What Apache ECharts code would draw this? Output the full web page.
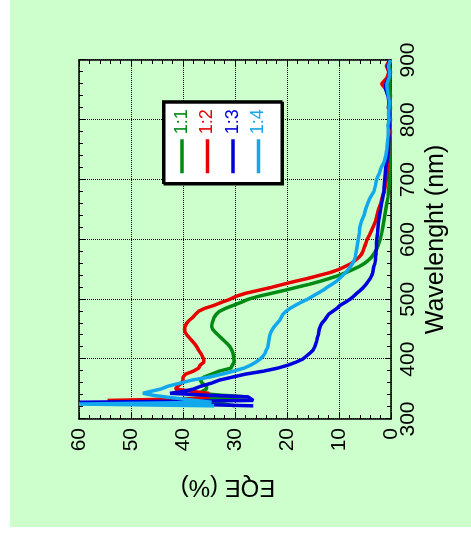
<!DOCTYPE html>
<html>
<head>
<meta charset="utf-8">
<script src="https://cdn.jsdelivr.net/npm/echarts@6/dist/echarts.min.js"></script>
<style>
  html, body { margin: 0; padding: 0; background: #fff; overflow: hidden; width: 471px; height: 540px; }
  /* The figure is laid out landscape and turned a quarter turn counter-clockwise. */
  #chart {
    position: absolute; left: 0; top: 0;
    width: 540px; height: 471px;
    transform-origin: 0 0;
    transform: translate(0, 540px) rotate(-90deg);
  }
</style>
</head>
<body>
<div id="chart"></div>
<script>
// Wavelength sampling points (nm)
const wavelength = [
  322, 325, 328, 331, 334, 337, 340, 343, 346, 350,
  355, 360, 365, 370, 375, 380, 385, 390, 395, 400,
  405, 410, 415, 420, 425, 430, 435, 440, 445, 450,
  455, 460, 465, 470, 475, 480, 485, 490, 495, 500,
  505, 510, 515, 520, 525, 530, 535, 540, 545, 550,
  555, 560, 565, 570, 575, 580, 585, 590, 595, 600,
  610, 620, 630, 640, 650, 660, 670, 680, 690, 700,
  710, 720, 730, 740, 750, 760, 770, 780, 790, 800,
  810, 820, 830, 840, 850, 860, 870, 880, 890, 900
];

// EQE (%) for each ratio
const eqe_1_1 = [
  30, 32, 36, 38, 40, 27.7, 33, 36.7, 36.3, 35.5,
  35.5, 36.3, 36.7, 36, 34.5, 33, 30.8, 30.5, 30.2, 30.2,
  30.3, 30.4, 30.6, 30.9, 31.4, 32, 32.6, 33.2, 33.8, 34.3,
  34.5, 34.4, 34.2, 34, 33.6, 33, 31.8, 30.3, 28.8, 27.5,
  25.5, 23, 20.5, 18.2, 15.8, 13.7, 11.8, 10, 8.6, 7.3,
  6.1, 5.1, 4.4, 3.8, 3.4, 3.0, 2.7, 2.5, 2.3, 2.1,
  1.8, 1.6, 1.4, 1.2, 1.0, 0.8, 0.6, 0.5, 0.4, 0.3,
  0.3, 0.2, 0.2, 0.2, 0.2, 0.2, 0.2, 0.1, 0.2, 0.1,
  0.2, 0.1, 0.2, 0.1, 0.2, 0.3, 0.2, 0.1, 0.3, 0.2
];
const eqe_1_2 = [
  36, 36, 37, 54.5, 38, 35, 35.5, 35, 38, 41.5,
  41, 40.3, 40, 40, 39.5, 38, 37, 36.7, 36, 36,
  36.3, 36.6, 37, 37.3, 37.7, 38.2, 38.7, 39.2, 39.6, 39.7,
  39.6, 39.3, 38.8, 38.1, 37.6, 37, 35.8, 34, 32.6, 31,
  29.8, 28, 25.5, 23, 20.8, 18.5, 16, 13.8, 11.6, 10,
  8.8, 7.6, 6.9, 6.2, 5.7, 5.4, 5.2, 5.0, 4.8, 4.6,
  4.0, 3.5, 3.0, 2.7, 2.4, 2.0, 1.7, 1.3, 1.1, 0.9,
  0.8, 0.7, 0.6, 0.5, 0.5, 0.5, 0.4, 0.3, 0.5, 0.4,
  0.3, 0.5, 0.4, 0.5, 0.9, 1.8, 0.8, 0.4, 0.9, 0.3
];
const eqe_1_3 = [
  26.5, 40, 60, 26.5, 26.5, 27.5, 36, 42.5, 40, 38,
  36.5, 34.5, 33, 30.5, 28, 24.5, 21.8, 19.8, 18.3, 17,
  16.3, 15.6, 15, 14.7, 14.5, 14.3, 14.2, 14, 13.9, 13.8,
  13.6, 13.3, 12.8, 12.4, 12, 11.2, 10.4, 9.8, 8.8, 7.9,
  7.2, 6.6, 5.9, 5.3, 4.8, 4.4, 4.0, 3.7, 3.5, 3.4,
  3.3, 3.1, 3.0, 3.0, 2.9, 2.9, 2.8, 2.8, 2.8, 2.75,
  2.6, 2.5, 2.4, 2.2, 2.0, 1.8, 1.6, 1.4, 1.3, 1.2,
  1.1, 1.0, 0.8, 0.6, 0.5, 0.5, 0.4, 0.5, 0.3, 0.4,
  0.3, 0.5, 0.4, 0.6, 1.0, 1.0, 0.5, 0.4, 0.6, 0.3
];
const eqe_1_4 = [
  34, 60, 34.5, 37.5, 40.5, 43.5, 46, 47.7, 46.3, 44.3,
  42.8, 40.5, 38.3, 35, 32.5, 30.3, 28.3, 27, 26, 25.2,
  24.6, 24.2, 24, 23.7, 23.6, 23.5, 23.4, 23.3, 23.1, 22.8,
  22.4, 21.9, 21.4, 21.1, 20.8, 20.2, 19.4, 18.4, 17.3, 16.1,
  15.1, 14.1, 13.1, 12.3, 11.4, 10.5, 9.9, 9.3, 8.7, 8.2,
  7.8, 7.4, 7.1, 6.9, 6.8, 6.7, 6.6, 6.5, 6.4, 6.3,
  6.1, 6.0, 5.7, 5.2, 4.9, 4.5, 4.0, 3.3, 3.0, 2.8,
  2.3, 1.9, 1.3, 1.0, 0.8, 0.7, 0.6, 0.5, 0.6, 0.4,
  0.5, 0.4, 0.3, 0.5, 0.7, 0.8, 0.4, 0.3, 0.5, 0.1
];

const seriesNames = ['1:1', '1:2', '1:3', '1:4'];
const seriesColors = ['#008a14', '#e60000', '#0000dc', '#12a8ee'];
const seriesValues = [eqe_1_1, eqe_1_2, eqe_1_3, eqe_1_4];

const FONT = '"Liberation Sans", Arial, Helvetica, sans-serif';
const BLACK = '#000';

function frameAxis(extra) {
  return Object.assign({
    type: 'value',
    axisLine: { show: true, onZero: false, lineStyle: { color: BLACK, width: 1.5 } },
    axisTick: { show: true, inside: true, length: 6, lineStyle: { color: BLACK, width: 1 } },
    minorTick: { show: true, splitNumber: 5, length: 4, lineStyle: { color: BLACK, width: 1 } },
    axisLabel: { show: false },
    splitLine: { show: false }
  }, extra);
}

const chart = echarts.init(document.getElementById('chart'), null, { renderer: 'canvas' });

const option = {
  animation: false,
  backgroundColor: '#ffffff',
  graphic: [{
    type: 'rect', silent: true, z: -10,
    shape: { x: 13, y: 10, width: 527, height: 461 },
    style: { fill: '#ccffcc' }
  }],
  grid: { left: 121, right: 60, top: 79, bottom: 80 },
  legend: {
    orient: 'vertical',
    left: 357, top: 163,
    padding: [10, 8, 14, 8],
    itemGap: 7.5,
    itemWidth: 34,
    itemHeight: 14,
    backgroundColor: '#ffffff',
    borderColor: BLACK,
    borderWidth: 2,
    shadowColor: BLACK,
    shadowBlur: 0,
    shadowOffsetX: -1.5,
    shadowOffsetY: 1.5,
    itemStyle: { opacity: 0 },
    lineStyle: { width: 3.5 },
    textStyle: { fontSize: 18, fontFamily: FONT },
    data: seriesNames.map((n, i) => ({ name: n, textStyle: { color: seriesColors[i] } }))
  },
  xAxis: [
    frameAxis({
      min: 300, max: 900, interval: 100, position: 'bottom',
      name: 'Wavelenght (nm)', nameLocation: 'middle', nameGap: 31,
      nameTextStyle: { fontSize: 25, color: BLACK, fontFamily: FONT },
      axisLabel: { show: true, fontSize: 21, color: BLACK, margin: 7, fontFamily: FONT },
      splitLine: { show: true, lineStyle: { color: BLACK, type: 'dotted', width: 1 } }
    }),
    frameAxis({ min: 300, max: 900, interval: 100, position: 'top' })
  ],
  yAxis: [
    frameAxis({
      min: 0, max: 60, interval: 10, position: 'left',
      name: 'EQE (%)', nameLocation: 'middle', nameGap: 56,
      nameTextStyle: { fontSize: 24, color: BLACK, fontFamily: FONT, padding: [0, 0, 0, 14] },
      axisLabel: { show: true, fontSize: 21, color: BLACK, margin: 9, fontFamily: FONT },
      splitLine: { show: true, lineStyle: { color: BLACK, type: 'dotted', width: 1 } }
    }),
    frameAxis({ min: 0, max: 60, interval: 10, position: 'right' })
  ],
  series: seriesValues.map((vals, i) => ({
    name: seriesNames[i],
    type: 'line',
    xAxisIndex: 0,
    yAxisIndex: 0,
    symbol: 'none',
    smooth: false,
    clip: true,
    color: seriesColors[i],
    lineStyle: { width: 3.5, color: seriesColors[i] },
    data: wavelength.map((w, k) => [w, vals[k]])
  }))
};

chart.setOption(option);
</script>
</body>
</html>
